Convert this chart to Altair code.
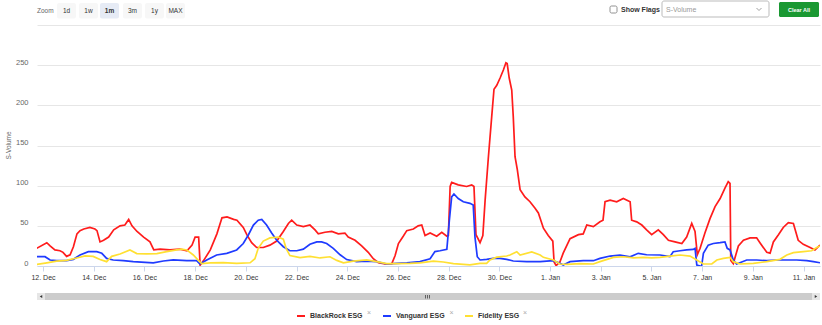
import altair as alt
import pandas as pd
from datetime import datetime, timedelta

FONT = "Liberation Sans"

series_names = ["BlackRock ESG", "Vanguard ESG", "Fidelity ESG"]
series_colors = ["#ff1c1c", "#1f3bff", "#ffe033"]

# days after 12 Dec (00:00) and S-Volume values
red_days = [-0.25, 0.15, 0.28, 0.47, 0.67, 0.79, 0.93, 1.07, 1.20, 1.34, 1.46, 1.61, 1.85, 2.05, 2.13,
            2.25, 2.39, 2.59, 2.79, 3.04, 3.23, 3.38, 3.51, 3.71, 3.97, 4.22, 4.37, 4.62, 5.01, 5.40,
            5.68, 5.88, 6.00, 6.14, 6.20, 6.34, 6.60, 6.86, 7.06, 7.26, 7.52, 7.65, 7.90, 8.04, 8.23,
            8.43, 8.69, 8.95, 9.22, 9.48, 9.68, 9.81, 10.01, 10.27, 10.53, 10.73, 10.86, 11.12, 11.39, 11.65,
            11.91, 12.04, 12.31, 12.57, 12.83, 13.03, 13.23, 13.49, 13.76, 13.89, 14.02, 14.21, 14.35, 14.61, 14.80,
            14.94, 15.07, 15.27, 15.53, 15.73, 15.93, 15.99, 16.06, 16.12, 16.38, 16.71, 16.91, 17.00, 17.08, 17.24,
            17.35, 17.44, 17.57, 17.70, 17.79, 17.90, 18.03, 18.16, 18.26, 18.31, 18.39, 18.49, 18.55, 18.62, 18.71,
            18.82, 19.01, 19.21, 19.41, 19.54, 19.74, 19.93, 20.11, 20.16, 20.24, 20.39, 20.52, 20.79, 21.12, 21.31,
            21.45, 21.71, 21.97, 22.09, 22.17, 22.37, 22.63, 22.89, 23.16, 23.22, 23.42, 23.62, 23.81, 24.01, 24.27,
            24.47, 24.67, 24.93, 25.20, 25.39, 25.59, 25.72, 25.81, 25.92, 26.11, 26.31, 26.51, 26.71, 26.90, 27.03,
            27.10, 27.13, 27.23, 27.43, 27.63, 27.89, 28.15, 28.28, 28.55, 28.68, 28.81, 29.01, 29.20, 29.40, 29.60,
            29.79, 29.99, 30.26, 30.45, 30.65]
red_values = [22, 29, 25, 20, 19, 17, 12, 14, 24, 40, 44, 46, 48, 46, 44,
              30, 32, 36, 45, 50, 51, 58, 50, 43, 36, 30, 20, 21, 20, 21,
              19, 26, 36, 36, 1, 7, 20, 40, 60, 61, 58, 57, 48, 39, 29,
              23, 23, 26, 31, 43, 53, 57, 51, 49, 51, 45, 40, 42, 43, 40,
              41, 36, 32, 25, 17, 9, 4, 2.5, 3, 13, 28, 37, 44, 46, 50,
              51, 38, 41, 37, 42, 37, 38, 99, 104, 101, 99, 101, 99, 39, 29,
              38, 82, 136, 186, 220, 225, 234, 244, 253, 252, 234, 219, 186, 136, 120,
              95, 86, 80, 72, 66, 47, 38, 31, 5, 0.5, 5, 16, 34, 39, 40,
              51, 49, 55, 57, 80, 82, 80, 84, 80, 57, 55, 51, 45, 39, 45,
              39, 32, 30, 28, 36, 53, 43, 14, 22, 41, 59, 74, 84, 97, 105,
              103, 7, 3, 25, 32, 35, 35, 29, 17, 16, 30, 39, 48, 54, 53,
              32, 27, 23, 20, 26]

blue_days = [-0.25, 0.08, 0.28, 0.54, 0.93, 1.20, 1.46, 1.79, 2.12, 2.32, 2.51, 2.77, 3.17, 3.56, 4.35,
             4.75, 5.14, 5.67, 6.06, 6.19, 6.46, 6.85, 7.25, 7.64, 7.90, 8.10, 8.30, 8.49, 8.63, 8.82,
             9.02, 9.22, 9.48, 9.74, 10.01, 10.27, 10.53, 10.80, 10.99, 11.19, 11.45, 11.72, 11.98, 12.37, 12.77,
             13.16, 13.56, 13.95, 14.35, 14.87, 15.27, 15.46, 15.66, 15.93, 16.03, 16.12, 16.21, 16.38, 16.58, 16.84,
             16.97, 17.04, 17.13, 17.24, 17.50, 17.76, 18.03, 18.29, 18.55, 19.08, 19.61, 20.13, 20.39, 20.52, 20.79,
             21.31, 21.71, 21.97, 22.37, 22.76, 23.16, 23.48, 23.81, 24.34, 24.73, 24.86, 25.13, 25.39, 25.65, 25.72,
             25.79, 25.92, 25.98, 26.05, 26.24, 26.44, 26.71, 26.90, 26.99, 27.10, 27.23, 27.36, 27.76, 28.15, 28.55,
             28.94, 29.34, 29.73, 30.13, 30.39, 30.65]
blue_values = [11.6, 11.6, 7.5, 6.6, 6.6, 8.3, 13.7, 17.8, 17.8, 15.8, 9.5, 7.5, 6.6, 5.4, 4,
               6.2, 7.5, 6.6, 6.6, 2.5, 7.5, 13.7, 15.8, 20, 28, 38.6, 51, 57, 58, 51,
               41, 32, 24, 19, 19, 21, 27, 30, 30, 28, 22, 14, 8, 5.4, 6,
               5.4, 2.5, 3.3, 4, 5.4, 9, 18, 19, 20.7, 57, 86, 89.6, 84, 80, 78,
               76, 36, 11.6, 7.5, 8.3, 9.5, 9.5, 8.3, 6.2, 5.4, 5.4, 6.6, 3.3, 1.2, 5.4,
               6.6, 6.6, 9.5, 12.4, 13.5, 11.5, 15.8, 14, 13.7, 11.6, 17.8, 19, 20, 20.7, 22,
               1.2, 0, 0, 15.8, 26, 28, 29, 30, 22, 20, 7.5, 2.5, 7.5, 7.5, 6.6,
               7.5, 7.5, 7.5, 6.6, 5.4, 4]

yellow_days = [-0.25, 0.15, 0.54, 0.93, 1.33, 1.66, 1.98, 2.25, 2.51, 2.71, 3.04, 3.43, 3.70, 4.09, 4.49,
               4.88, 5.27, 5.47, 5.67, 5.93, 6.13, 6.26, 6.59, 7.11, 7.64, 8.17, 8.36, 8.49, 8.69, 8.95,
               9.28, 9.48, 9.59, 9.74, 10.14, 10.53, 10.93, 11.32, 11.59, 11.85, 12.24, 12.77, 13.16, 13.56, 13.95,
               14.48, 14.87, 15.40, 15.79, 16.19, 16.84, 17.24, 17.50, 17.63, 17.90, 18.29, 18.42, 18.69, 18.82, 19.28,
               19.61, 19.74, 20.13, 20.39, 20.66, 21.18, 21.71, 21.97, 22.50, 22.89, 23.29, 23.68, 24.01, 24.34, 24.73,
               25.13, 25.52, 25.79, 26.05, 26.38, 26.58, 26.84, 27.10, 27.23, 27.50, 28.02, 28.55, 29.07, 29.34, 29.60,
               29.99, 30.32, 30.52, 30.65]
yellow_values = [2, 4, 6, 7, 10, 12.5, 12, 8, 5.4, 12, 15, 20, 15.5, 15, 15.5,
                 17.8, 20, 21, 20, 13.7, 7, 3, 4, 4.3, 3.3, 4, 9, 22, 31, 35,
                 36, 33.5, 22, 13, 10.5, 12, 10, 11.5, 7, 4, 6, 7.5, 5.4, 3, 3,
                 3.3, 4, 6, 5, 3, 1.5, 3.3, 3.3, 7.5, 11, 12.4, 13.7, 17.8, 13.7, 17.5,
                 13.7, 10.8, 7.5, 2.5, 2, 3, 2.5, 5.4, 10.8, 11.5, 10, 10.8, 10, 10.8, 12.4,
                 13.7, 12.4, 7.5, 2.5, 2.5, 7.5, 9.5, 10.8, 5.4, 2.5, 3.3, 5.4, 8.3, 13.7, 16.6,
                 17.8, 19, 23, 25]

tick_dates = ["2023-12-12", "2023-12-14", "2023-12-16", "2023-12-18", "2023-12-20", "2023-12-22",
              "2023-12-24", "2023-12-26", "2023-12-28", "2023-12-30", "2024-01-01", "2024-01-03",
              "2024-01-05", "2024-01-07", "2024-01-09", "2024-01-11"]
y_ticks = [0, 50, 100, 150, 200, 250, 300]
zoom_buttons = ["1d", "1w", "1m", "3m", "1y", "MAX"]
selected_button = "1m"

start = datetime(2023, 12, 12)
rows = []
for name, days, values in zip(series_names, [red_days, blue_days, yellow_days],
                              [red_values, blue_values, yellow_values]):
    for d, v in zip(days, values):
        t = start + timedelta(days=d)
        rows.append({"time": t.strftime("%Y-%m-%dT%H:%M:%S"), "value": v, "series": name})
df = pd.DataFrame(rows)


def dt(s, hours=0, minutes=0):
    y, m, d = map(int, s.split("-"))
    return alt.DateTime(year=y, month=m, date=d, hours=hours, minutes=minutes)


x_scale = alt.Scale(domain=[dt("2023-12-11", 18, 20), dt("2024-01-11", 15, 35)])

lines = alt.Chart(df).mark_line(strokeWidth=1.7, clip=True).encode(
    x=alt.X("time:T", scale=x_scale,
            axis=alt.Axis(values=[dt(s) for s in tick_dates], format="%-d. %b", title=None, grid=False,
                          domainColor="#ccd6eb", tickColor="#ccd6eb", tickSize=5, labelFontSize=7,
                          labelColor="#333333", labelPadding=2, labelFont=FONT, labelFlush=False,
                          labelOverlap=False)),
    y=alt.Y("value:Q", scale=alt.Scale(domain=[0, 300], nice=False, zero=True),
            axis=alt.Axis(values=y_ticks, title="S-Volume",
                          labelExpr="datum.value == 300 ? '' : datum.label",
                          grid=True, gridColor="#e6e6e6", domain=False, ticks=False, labelPadding=9,
                          labelFontSize=7.5, labelColor="#666666", labelFont=FONT,
                          labelBaseline="middle", labelOffset=-3,
                          titleFont=FONT, titleFontSize=6.5, titleFontWeight="normal", titleColor="#666666",
                          titleX=-29, titleY=120, titleAlign="center", titleBaseline="middle", titleAngle=270)),
    color=alt.Color("series:N", scale=alt.Scale(domain=series_names, range=series_colors),
                    legend=alt.Legend(orient="none", legendX=259, legendY=286, direction="horizontal",
                                      title=None, symbolType="stroke", symbolSize=64, symbolStrokeWidth=2,
                                      labelFont=FONT, labelFontSize=7, labelFontWeight="bold",
                                      labelColor="#333333", columnPadding=16, labelOffset=4)),
)

one = alt.Data(values=[{"k": 0}])


def rect(x1, x2, y1, y2, **kw):
    return alt.Chart(one).mark_rect(**kw).encode(
        x=alt.value(x1), x2=alt.value(x2), y=alt.value(y1), y2=alt.value(y2))


def label(x, y, text, **kw):
    kw.setdefault("font", FONT)
    return alt.Chart(one).mark_text(**kw).encode(x=alt.value(x), y=alt.value(y), text=alt.value(text))


def seg(x1, y1, x2, y2, **kw):
    return alt.Chart(one).mark_rule(**kw).encode(
        x=alt.value(x1), y=alt.value(y1), x2=alt.value(x2), y2=alt.value(y2))


decor = []
# range selector
decor.append(label(0, -14, "Zoom", fontSize=6.5, color="#666666", align="left", baseline="middle"))
btn_left = [20, 42, 63, 86, 108, 129]
for name, bx in zip(zoom_buttons, btn_left):
    sel = name == selected_button
    decor.append(rect(bx, bx + 19, -22, -6.5, fill="#e6ebf5" if sel else "#f7f7f7", cornerRadius=2))
    decor.append(label(bx + 9.5, -14, name, fontSize=6.5, color="#333333", align="center", baseline="middle",
                       fontWeight="bold" if sel else "normal"))
# show flags / dropdown / clear all
decor.append(rect(573, 580, -19, -12, fill="white", stroke="#767676", strokeWidth=0.8, cornerRadius=1.5))
decor.append(label(584, -15, "Show Flags", fontSize=7, color="#333333", fontWeight="bold", align="left",
                   baseline="middle"))
decor.append(rect(625, 732, -24, -8, fill="white", stroke="#a9a9a9", strokeWidth=0.8, cornerRadius=2))
decor.append(label(629, -15.5, "S-Volume", fontSize=7, color="#999999", align="left", baseline="middle"))
decor.append(seg(719.5, -17, 722, -14.5, color="#888888", strokeWidth=0.8))
decor.append(seg(722, -14.5, 724.5, -17, color="#888888", strokeWidth=0.8))
decor.append(rect(742, 782, -23, -8, fill="#1a9832", cornerRadius=1.5))
decor.append(label(762, -15.5, "Clear All", fontSize=5.5, color="white", fontWeight="bold", align="center",
                   baseline="middle"))
# scrollbar
decor.append(rect(0, 783, 268, 275, fill="#f2f2f2"))
decor.append(rect(8, 775, 268, 275, fill="#cccccc"))
decor.append(rect(0, 8, 268, 275, fill="#e6e6e6"))
decor.append(rect(775, 783, 268, 275, fill="#e6e6e6"))
decor.append(alt.Chart(one).mark_point(shape="triangle-left", size=8, filled=True, color="#333333", opacity=1)
             .encode(x=alt.value(4), y=alt.value(271.5)))
decor.append(alt.Chart(one).mark_point(shape="triangle-right", size=8, filled=True, color="#333333", opacity=1)
             .encode(x=alt.value(779), y=alt.value(271.5)))
for gx in [388.5, 390.5, 392.5]:
    decor.append(seg(gx, 270, gx, 273.5, color="#333333", strokeWidth=0.7))
# legend close marks
for lx in [332, 414.5, 488]:
    decor.append(label(lx, 288, "×", fontSize=7, color="#aaaaaa", align="center", baseline="middle"))

chart = alt.layer(lines, *decor).properties(
    width=783, height=241,
    padding={"left": 37, "top": 25, "right": 2, "bottom": 59},
    autosize=alt.AutoSizeParams(type="none"),
).configure_view(stroke=None)

chart.save("out.html", embed_options={"renderer": "svg", "actions": False})
